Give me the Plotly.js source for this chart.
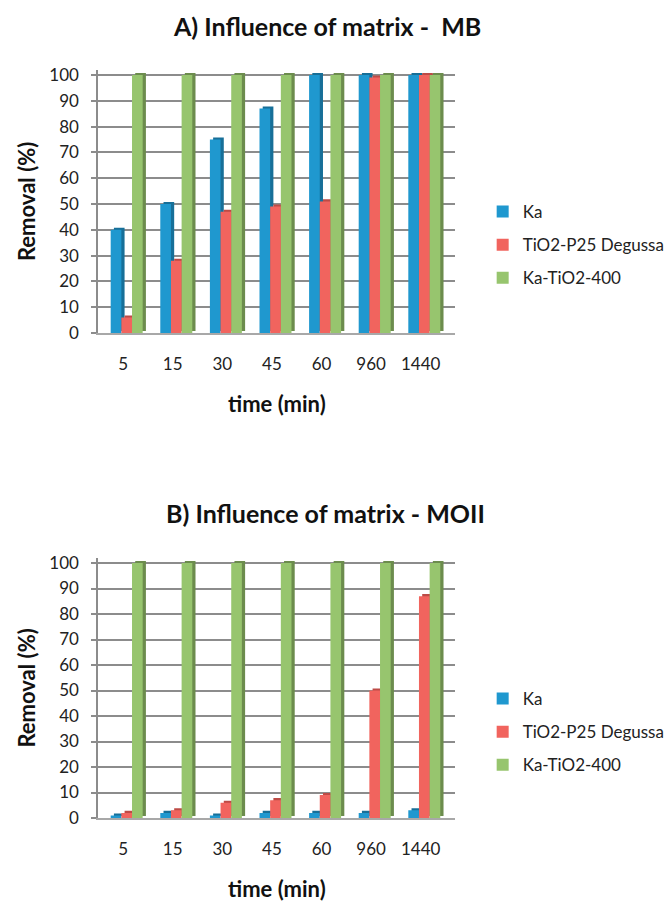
<!DOCTYPE html>
<html>
<head>
<meta charset="utf-8">
<script src="https://cdn.plot.ly/plotly-3.0.1.min.js"></script>
<style>
  html, body { margin: 0; padding: 0; background: #ffffff; }
  #chart { width: 670px; height: 906px; }
</style>
</head>
<body>
<div id="chart"></div>
<script>
// Sampling times shared by both panels
const times = ['5', '15', '30', '45', '60', '960', '1440'];

// Panel A: methylene blue (MB) removal, %
const mbKa       = [40, 50, 75, 87, 100, 100, 100];
const mbTiO2P25  = [6, 28, 47, 49, 51, 99, 100];
const mbKaTiO2   = [100, 100, 100, 100, 100, 100, 100];

// Panel B: methyl orange (MOII) removal, %
const moKa       = [1, 2, 1, 2, 2, 2, 3];
const moTiO2P25  = [2, 3, 6, 7, 9, 50, 87];
const moKaTiO2   = [100, 100, 100, 100, 100, 100, 100];

const seriesNames = ['Ka', 'TiO2-P25 Degussa', 'Ka-TiO2-400'];

const FONT = 'Lato, "Open Sans", sans-serif';

// front face colour and darker side colour for the pseudo-3D columns
const faces = ['#1f98cf', '#f1645e', '#97c56e'];
const sides = ['#176f98', '#bd4b46', '#6c8c4d'];

const barWidth = 0.215;
const offsets = [-0.25, -0.035, 0.18];
const depthX = 0.065;  // sideways shift of the shaded side, in category units
const depthY = 0.8;    // upward shift of the shaded top, in % units

const traces = [];
function addPanel(valuesList, xa, ya, legendId) {
  valuesList.forEach((vals, i) => {
    // shaded side/top of the column
    traces.push({
      type: 'bar', x: times, y: vals, base: depthY,
      xaxis: xa, yaxis: ya,
      offset: offsets[i] + depthX, width: barWidth,
      marker: { color: sides[i] },
      showlegend: false, hoverinfo: 'skip'
    });
    // front face
    traces.push({
      type: 'bar', x: times, y: vals,
      xaxis: xa, yaxis: ya,
      offset: offsets[i], width: barWidth,
      marker: { color: faces[i] },
      name: seriesNames[i], legend: legendId,
      legendgroup: legendId + '_' + i
    });
  });
}
addPanel([mbKa, mbTiO2P25, mbKaTiO2], 'x', 'y', 'legend');
addPanel([moKa, moTiO2P25, moKaTiO2], 'x2', 'y2', 'legend2');

const W = 670, H = 906;
const px = v => v / W;
const py = v => 1 - v / H;

function xAxis(domain, anchor) {
  return {
    domain: domain, anchor: anchor, type: 'category',
    range: [-0.5, 6.7],
    showline: true, linecolor: '#a8a8a8', linewidth: 2,
    showgrid: false, ticks: '', ticklabelstandoff: 15,
    tickfont: { family: FONT, size: 17, color: '#222222' },
    title: { text: '<b>time (min)</b>', standoff: 23,
             font: { family: FONT, size: 22, color: '#111111' } },
    fixedrange: true
  };
}
function yAxis(domain, anchor) {
  return {
    domain: domain, anchor: anchor,
    range: [0, 102], tickvals: [0, 10, 20, 30, 40, 50, 60, 70, 80, 90, 100],
    showline: true, linecolor: '#8c8c8c', linewidth: 2,
    showgrid: true, gridcolor: '#8c8c8c', gridwidth: 2,
    zeroline: false,
    ticks: 'outside', ticklen: 5, tickwidth: 2, tickcolor: '#8c8c8c',
    ticklabelstandoff: 9,
    tickfont: { family: FONT, size: 17, color: '#222222' },
    title: { text: '<b>Removal (%)</b>', standoff: 8,
             font: { family: FONT, size: 22, color: '#111111' } },
    fixedrange: true
  };
}

function legendBox(topPx) {
  return {
    x: px(496), y: py(topPx), xanchor: 'left', yanchor: 'top',
    bgcolor: 'rgba(0,0,0,0)', borderwidth: 0,
    font: { family: FONT, size: 17, color: '#222222' },
    tracegroupgap: 8, itemwidth: 30, traceorder: 'grouped'
  };
}

// 0 % sits at the bottom of each domain; 100 % lands on the top gridline
const unitA = (333 - 75) / 100, unitB = (818 - 563) / 100;

const layout = {
  width: W, height: H,
  margin: { l: 0, r: 0, t: 0, b: 0 },
  paper_bgcolor: '#ffffff', plot_bgcolor: '#ffffff',
  barmode: 'overlay',
  showlegend: true,
  xaxis:  xAxis([px(101), px(468)], 'y'),
  yaxis:  yAxis([py(333), py(333 - 102 * unitA)], 'x'),
  xaxis2: xAxis([px(101), px(468)], 'y2'),
  yaxis2: yAxis([py(818), py(818 - 102 * unitB)], 'x2'),
  legend:  legendBox(194),
  legend2: legendBox(681),
  annotations: [
    { text: '<b>A) Influence of matrix -\u00a0\u00a0MB</b>', xref: 'paper', yref: 'paper',
      x: px(336), y: py(26), xanchor: 'center', yanchor: 'middle', showarrow: false,
      font: { family: FONT, size: 25, color: '#111111' } },
    { text: '<b>B) Influence of matrix - MOII</b>', xref: 'paper', yref: 'paper',
      x: px(334), y: py(513), xanchor: 'center', yanchor: 'middle', showarrow: false,
      font: { family: FONT, size: 25, color: '#111111' } }
  ]
};

Plotly.newPlot('chart', traces, layout, { displayModeBar: false, staticPlot: true });
</script>
</body>
</html>
